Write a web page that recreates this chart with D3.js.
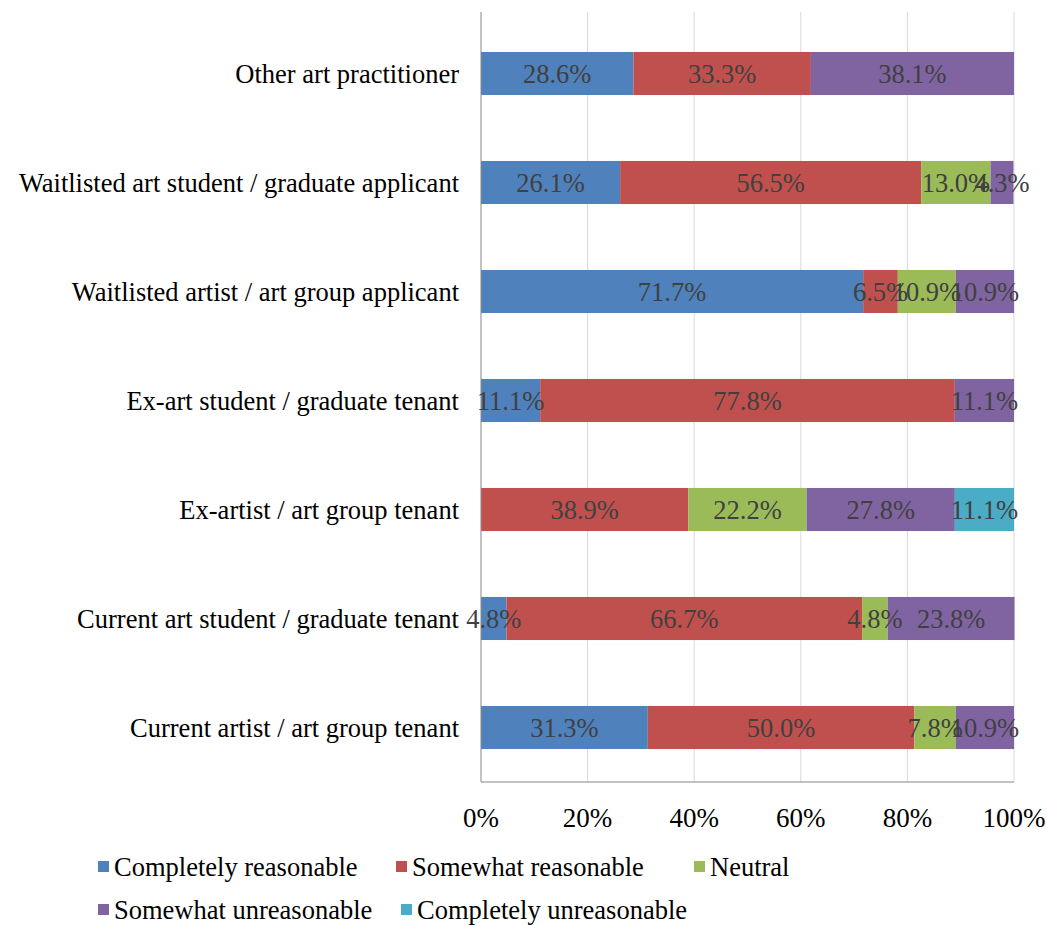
<!DOCTYPE html>
<html>
<head>
<meta charset="utf-8">
<script src="https://cdn.jsdelivr.net/npm/d3@7"></script>
<style>
  html, body { margin: 0; padding: 0; background: #fff; }
  svg text { font-family: "Liberation Serif", "Times New Roman", serif; }
</style>
</head>
<body>
<svg id="chart" width="1046" height="925"></svg>
<script>
// Respondent groups, listed top to bottom
const categories = [
  "Other art practitioner",
  "Waitlisted art student / graduate applicant",
  "Waitlisted artist / art group applicant",
  "Ex-art student / graduate tenant",
  "Ex-artist / art group tenant",
  "Current art student / graduate tenant",
  "Current artist / art group tenant"
];

const seriesNames = [
  "Completely reasonable",
  "Somewhat reasonable",
  "Neutral",
  "Somewhat unreasonable",
  "Completely unreasonable"
];

// Percentages per group, one array per response
const completelyReasonable   = [28.6, 26.1, 71.7, 11.1, 0,    4.8,  31.3];
const somewhatReasonable     = [33.3, 56.5, 6.5,  77.8, 38.9, 66.7, 50.0];
const neutral                = [0,    13.0, 10.9, 0,    22.2, 4.8,  7.8];
const somewhatUnreasonable   = [38.1, 4.3,  10.9, 11.1, 27.8, 23.8, 10.9];
const completelyUnreasonable = [0,    0,    0,    0,    11.1, 0,    0];

const tickValues = [0, 20, 40, 60, 80, 100];

const colors = ["#4F81BD", "#C0504D", "#9BBB59", "#8064A2", "#4BACC6"];

const seriesValues = [completelyReasonable, somewhatReasonable, neutral, somewhatUnreasonable, completelyUnreasonable];

const rows = categories.map((c, i) => {
  const r = { category: c };
  seriesNames.forEach((s, k) => { r[s] = seriesValues[k][i]; });
  return r;
});

const FONT = 26.5;
const svg = d3.select("#chart");

const x = d3.scaleLinear().domain([0, 100]).range([481, 1014]);
const y = d3.scaleBand().domain(categories).range([19, 782]).paddingInner(0.605).paddingOuter(0.3025);

// vertical gridlines
svg.append("g")
  .selectAll("line")
  .data(tickValues.slice(1))
  .join("line")
  .attr("x1", d => x(d)).attr("x2", d => x(d))
  .attr("y1", 12).attr("y2", 782)
  .attr("stroke", "#d9d9d9").attr("stroke-width", 1);

const stack = d3.stack().keys(seriesNames)(rows);

const layers = svg.append("g")
  .selectAll("g")
  .data(stack)
  .join("g")
  .attr("fill", (d, i) => colors[i]);

layers.selectAll("rect")
  .data(d => d)
  .join("rect")
  .attr("x", d => x(d[0]))
  .attr("width", d => x(d[1]) - x(d[0]))
  .attr("y", d => y(d.data.category))
  .attr("height", y.bandwidth());

// axes lines
svg.append("line")
  .attr("x1", 481).attr("x2", 481).attr("y1", 12).attr("y2", 782)
  .attr("stroke", "#868686").attr("stroke-width", 1);
svg.append("line")
  .attr("x1", 481).attr("x2", 1014).attr("y1", 782).attr("y2", 782)
  .attr("stroke", "#868686").attr("stroke-width", 1);

// value labels centred on each segment
const labels = svg.append("g");
stack.forEach(layer => {
  layer.forEach(d => {
    const v = d[1] - d[0];
    if (v <= 0) return;
    labels.append("text")
      .attr("x", (x(d[0]) + x(d[1])) / 2)
      .attr("y", y(d.data.category) + y.bandwidth() / 2)
      .attr("dy", "0.35em")
      .attr("text-anchor", "middle")
      .attr("font-size", FONT)
      .attr("fill", "#404040")
      .text(v.toFixed(1) + "%");
  });
});

// x tick labels
svg.append("g")
  .selectAll("text")
  .data(tickValues)
  .join("text")
  .attr("x", d => x(d))
  .attr("y", 827)
  .attr("text-anchor", "middle")
  .attr("font-size", 27)
  .attr("fill", "#000")
  .text(d => d + "%");

// category labels
svg.append("g")
  .selectAll("text")
  .data(categories)
  .join("text")
  .attr("x", 459)
  .attr("y", d => y(d) + y.bandwidth() / 2)
  .attr("dy", "0.35em")
  .attr("text-anchor", "end")
  .attr("font-size", FONT)
  .attr("fill", "#000")
  .text(d => d);

// legend: two rows below the axis
const legendPos = [
  { x: 98, y: 867 }, { x: 396, y: 867 }, { x: 694, y: 867 },
  { x: 98, y: 910 }, { x: 401, y: 910 }
];
const legend = svg.append("g")
  .selectAll("g")
  .data(seriesNames)
  .join("g")
  .attr("transform", (d, i) => `translate(${legendPos[i].x},${legendPos[i].y})`);
legend.append("rect")
  .attr("x", 0).attr("y", -6).attr("width", 11).attr("height", 11)
  .attr("fill", (d, i) => colors[i]);
legend.append("text")
  .attr("x", 16).attr("y", 0).attr("dy", "0.35em")
  .attr("font-size", FONT)
  .attr("fill", "#000")
  .text(d => d);
</script>
</body>
</html>
